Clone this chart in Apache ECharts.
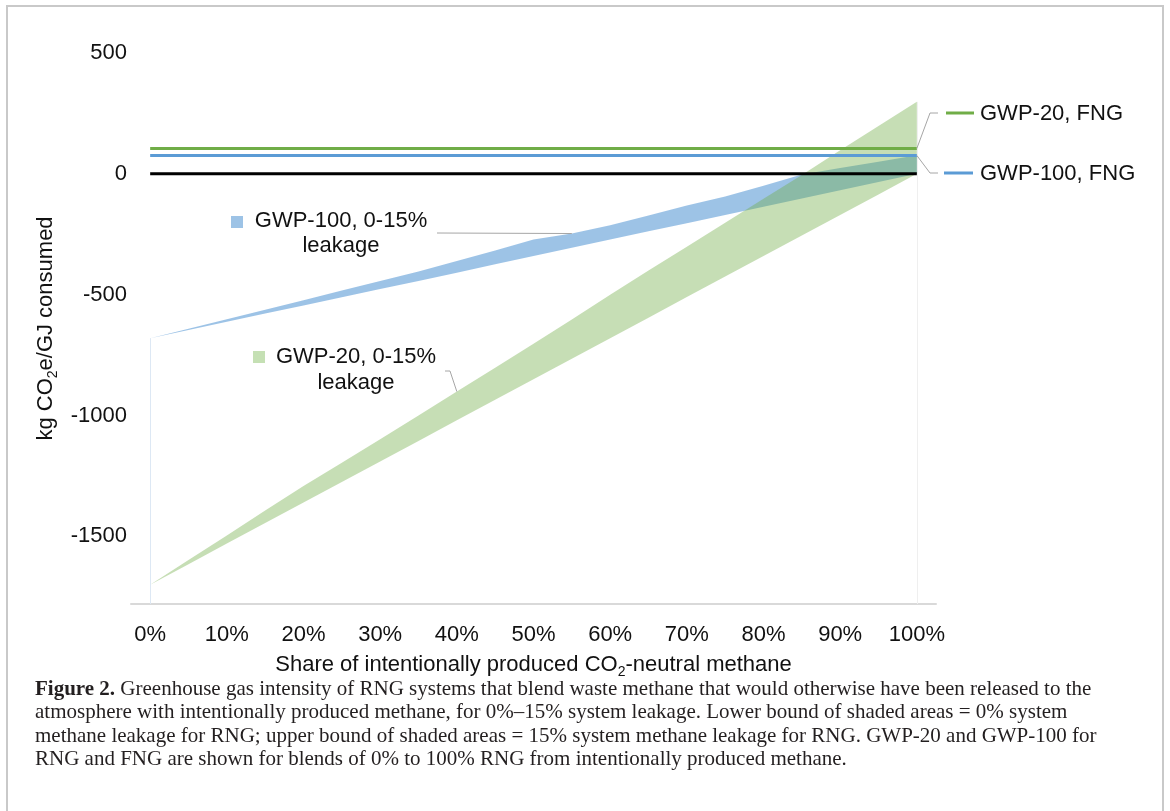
<!DOCTYPE html>
<html>
<head>
<meta charset="utf-8">
<script src="https://cdn.jsdelivr.net/npm/echarts@6/dist/echarts.min.js"></script>
<style>
  html, body { margin: 0; padding: 0; background: #fff; }
  #chart { width: 1170px; height: 811px; }
</style>
</head>
<body>
<div id="chart"></div>
<script>
// Share of intentionally produced CO2-neutral methane (%)
const shares = [0, 5, 10, 15, 20, 25, 30, 35, 40, 45, 50, 55, 60, 65, 70, 75, 80, 85, 90, 95, 100];

// GWP-20, RNG: lower bound = 0% leakage, upper bound = 15% leakage (kg CO2e/GJ)
const gwp20Low  = [-1700, -1615, -1530, -1445, -1360, -1275, -1190, -1105, -1020, -935, -850, -765, -680, -595, -510, -425, -340, -255, -170, -85, 0];
const gwp20High = [-1700, -1598, -1497, -1393, -1292, -1195, -1098, -1000, -901, -802, -703, -603, -500, -400, -302, -202, -103, -5, 98, 198, 298];

// GWP-100, RNG: lower bound = 0% leakage, upper bound = 15% leakage (kg CO2e/GJ)
const gwp100Low  = [-680, -646, -612, -578, -545, -511, -477, -443, -409, -374, -340, -306, -272, -238, -204, -170, -136, -102, -68, -34, 0];
const gwp100High = [-680, -641, -602, -562, -523, -483, -443, -404, -361, -317, -272, -247, -213, -172, -131, -94, -49, -3, 24, 50, 77];

// Fossil natural gas reference intensities (kg CO2e/GJ)
const fngGwp20 = 105;
const fngGwp100 = 76;

// Axis ticks
const xTicks = [0, 10, 20, 30, 40, 50, 60, 70, 80, 90, 100];
const yTicks = [-1500, -1000, -500, 0, 500];

const SANS = '"Liberation Sans", Arial, sans-serif';
const SERIF = '"Liberation Serif", "Times New Roman", serif';
const TEXT = '#111';
const BLUE = '#5B9BD5';
const GREEN = '#70AD47';
const Y_MIN = -1780;

const flat = (v) => shares.map((s) => [s, v]);
const bandRows = (lo, hi) => shares.map((s, i) => [s, lo[i], hi[i]]);

// Shaded range between the 0% and 15% leakage bounds, drawn as one polygon
function bandRenderer(color, opacity) {
  return function (params, api) {
    if (params.dataIndex !== 0) return null;
    const n = params.dataInsideLength;
    const upper = [];
    const lower = [];
    for (let i = 0; i < n; i++) {
      upper.push(api.coord([api.value(0, i), api.value(2, i)]));
      lower.push(api.coord([api.value(0, i), api.value(1, i)]));
    }
    return {
      type: 'polygon',
      shape: { points: upper.concat(lower.reverse()) },
      style: { fill: color, opacity: opacity, stroke: null }
    };
  };
}

const chart = echarts.init(document.getElementById('chart'), null, { renderer: 'canvas' });

const option = {
  animation: false,
  backgroundColor: '#fff',
  grid: { left: 131, right: 234, top: 53, bottom: 207 },
  xAxis: {
    type: 'value',
    min: -2.5,
    max: 102.5,
    axisLine: { show: true, onZero: false, lineStyle: { color: '#d9d9d9', width: 2 } },
    axisTick: { show: false },
    splitLine: { show: false },
    axisLabel: {
      customValues: xTicks,
      formatter: (v) => v + '%',
      fontSize: 22, color: TEXT, fontFamily: SANS, margin: 20
    },
    name: 'Share of intentionally produced CO{sub|2}-neutral methane',
    nameLocation: 'middle',
    nameGap: 46,
    nameTextStyle: {
      fontSize: 22, color: TEXT, fontFamily: SANS, lineHeight: 28,
      rich: { sub: { fontSize: 14, fontFamily: SANS, color: TEXT, lineHeight: 28, verticalAlign: 'bottom' } }
    }
  },
  yAxis: {
    type: 'value',
    min: Y_MIN,
    max: 500,
    axisLine: { show: false },
    axisTick: { show: false },
    splitLine: { show: false },
    axisLabel: {
      customValues: yTicks,
      formatter: (v) => String(v),
      fontSize: 22, color: TEXT, fontFamily: SANS, margin: 4
    },
    name: 'kg CO{sub|2}e/GJ consumed',
    nameLocation: 'middle',
    nameRotate: 90,
    nameGap: 69,
    nameTextStyle: {
      fontSize: 22, color: TEXT, fontFamily: SANS, lineHeight: 28,
      rich: { sub: { fontSize: 14, fontFamily: SANS, color: TEXT, lineHeight: 28, verticalAlign: 'bottom' } }
    }
  },
  series: [
    {
      name: 'GWP-100, 0-15% leakage', type: 'custom', silent: true, z: 2,
      data: bandRows(gwp100Low, gwp100High),
      encode: { x: 0, y: [1, 2] },
      renderItem: bandRenderer(BLUE, 0.6),
      markLine: {
        silent: true, symbol: 'none', label: { show: false },
        lineStyle: { color: '#dde8f4', width: 1, type: 'solid' },
        data: [[{ coord: [shares[0], gwp100Low[0]] }, { coord: [shares[0], Y_MIN] }]]
      }
    },
    {
      name: 'GWP-20, 0-15% leakage', type: 'custom', silent: true, z: 3,
      data: bandRows(gwp20Low, gwp20High),
      encode: { x: 0, y: [1, 2] },
      renderItem: bandRenderer(GREEN, 0.4),
      markLine: {
        silent: true, symbol: 'none', label: { show: false },
        lineStyle: { color: '#efefef', width: 1, type: 'solid' },
        data: [[{ coord: [shares[shares.length - 1], gwp20High[gwp20High.length - 1]] },
                { coord: [shares[shares.length - 1], Y_MIN] }]]
      }
    },
    {
      name: 'Zero', type: 'line', data: flat(0), symbol: 'none', silent: true,
      lineStyle: { color: '#000', width: 3 }, z: 5
    },
    {
      name: 'GWP-100, FNG', type: 'line', data: flat(fngGwp100), symbol: 'none', silent: true,
      lineStyle: { color: BLUE, width: 3 }, z: 5
    },
    {
      name: 'GWP-20, FNG', type: 'line', data: flat(fngGwp20), symbol: 'none', silent: true,
      lineStyle: { color: GREEN, width: 3 }, z: 5
    }
  ]
};

chart.setOption(option);

// Callout labels and caption, anchored to the data where the leader lines land
const px = (x, y) => chart.convertToPixel({ xAxisIndex: 0, yAxisIndex: 0 }, [x, y]);
const last = shares.length - 1;
const pBlueBand = px(shares[11], gwp100High[11]);
const pGreenBand = px(shares[8], gwp20High[8]);
const pFng20 = px(shares[last], fngGwp20);
const pFng100 = px(shares[last], fngGwp100);
const leader = { stroke: '#a6a6a6', lineWidth: 1, fill: null };
const labelFont = { fontSize: 22, fontFamily: SANS, fill: TEXT };

chart.setOption({
  graphic: [
    // figure frame
    { type: 'rect', shape: { x: 7, y: 6, width: 1156, height: 830 },
      style: { fill: null, stroke: '#c9c9c9', lineWidth: 2 }, silent: true, z: 0 },

    // GWP-100 band callout
    { type: 'rect', shape: { x: 231, y: 216, width: 12, height: 12 }, style: { fill: '#9DC3E6' }, z: 10 },
    { type: 'text', x: 341, y: 233.5,
      style: Object.assign({ text: 'GWP-100, 0-15%\nleakage', align: 'center', verticalAlign: 'middle', lineHeight: 25 }, labelFont), z: 10 },
    { type: 'polyline', shape: { points: [[437, 233], pBlueBand] }, style: leader, z: 10 },

    // GWP-20 band callout
    { type: 'rect', shape: { x: 253, y: 351, width: 12, height: 12 }, style: { fill: '#C5E0B4' }, z: 10 },
    { type: 'text', x: 356, y: 370,
      style: Object.assign({ text: 'GWP-20, 0-15%\nleakage', align: 'center', verticalAlign: 'middle', lineHeight: 26 }, labelFont), z: 10 },
    { type: 'polyline', shape: { points: [[445, 371], [450, 371], pGreenBand] }, style: leader, z: 10 },

    // FNG callouts
    { type: 'polyline', shape: { points: [pFng20, [930, 113], [938, 113]] }, style: leader, z: 10 },
    { type: 'line', shape: { x1: 946, y1: 113, x2: 974, y2: 113 }, style: { stroke: GREEN, lineWidth: 3 }, z: 10 },
    { type: 'text', x: 980, y: 114,
      style: Object.assign({ text: 'GWP-20, FNG', align: 'left', verticalAlign: 'middle' }, labelFont), z: 10 },

    { type: 'polyline', shape: { points: [pFng100, [930, 173], [938, 173]] }, style: leader, z: 10 },
    { type: 'line', shape: { x1: 944, y1: 173, x2: 973, y2: 173 }, style: { stroke: BLUE, lineWidth: 3 }, z: 10 },
    { type: 'text', x: 980, y: 174,
      style: Object.assign({ text: 'GWP-100, FNG', align: 'left', verticalAlign: 'middle' }, labelFont), z: 10 },

    // caption
    { type: 'text', x: 35, y: 678,
      style: {
        text: '{b|Figure 2.} Greenhouse gas intensity of RNG systems that blend waste methane that would otherwise have been released to the\n' +
              'atmosphere with intentionally produced methane, for 0%–15% system leakage. Lower bound of shaded areas = 0% system\n' +
              'methane leakage for RNG; upper bound of shaded areas = 15% system methane leakage for RNG. GWP-20 and GWP-100 for\n' +
              'RNG and FNG are shown for blends of 0% to 100% RNG from intentionally produced methane.',
        fontSize: 21, fontFamily: SERIF, fill: '#231f20', lineHeight: 23.3,
        align: 'left', verticalAlign: 'top',
        rich: { b: { fontWeight: 'bold', fontSize: 21, fontFamily: SERIF, fill: '#231f20', lineHeight: 23.3 } }
      }, z: 10 }
  ]
});
</script>
</body>
</html>
